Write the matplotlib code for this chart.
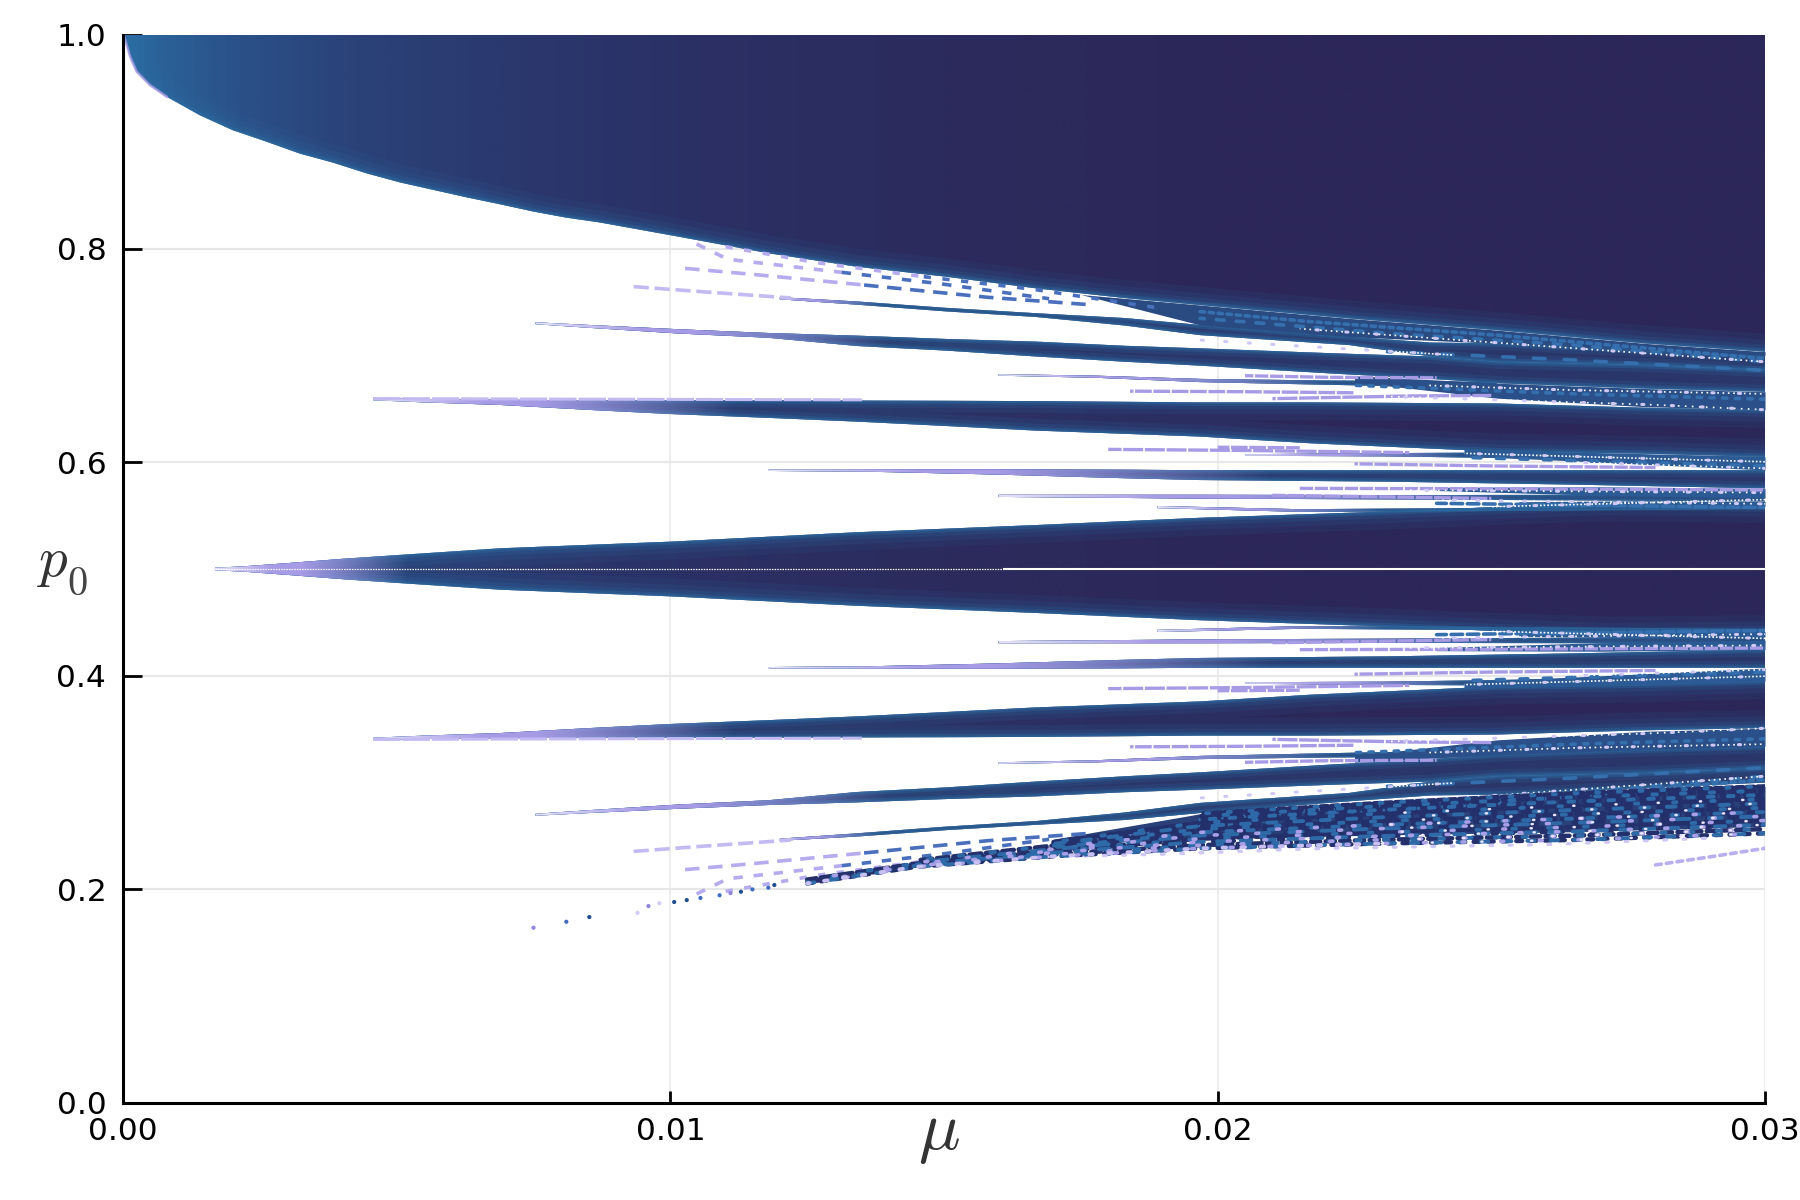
import numpy as np
import matplotlib
matplotlib.use("Agg")
import matplotlib.pyplot as plt
from matplotlib.patches import Polygon
from matplotlib.colors import LinearSegmentedColormap, to_rgb

plt.rcParams['mathtext.fontset'] = 'cm'
plt.rcParams['font.family'] = 'DejaVu Sans'

# ---------- data: (mu, p) envelopes ----------
x_ticks = [0.00, 0.01, 0.02, 0.03]
y_ticks = [0.0, 0.2, 0.4, 0.6, 0.8, 1.0]
x_tick_labels = ["0.00", "0.01", "0.02", "0.03"]
y_tick_labels = ["0.0", "0.2", "0.4", "0.6", "0.8", "1.0"]

top_mu = [0.00002, 0.00013, 0.00025, 0.00049, 0.0008, 0.0014, 0.0020, 0.00263, 0.00323, 0.00384, 0.00445,
          0.00506, 0.00567, 0.00628, 0.00689, 0.0075, 0.0081, 0.0087, 0.01015, 0.01179, 0.01341, 0.01504,
          0.01668, 0.0183, 0.01968, 0.0224, 0.0251, 0.0278, 0.03]
top_p = [0.999, 0.9797, 0.9657, 0.9532, 0.9422, 0.925, 0.911, 0.900, 0.889, 0.8805, 0.8705,
         0.862, 0.855, 0.848, 0.8415, 0.8347, 0.829, 0.8246, 0.8112, 0.7957, 0.783, 0.7737,
         0.7628, 0.7537, 0.7472, 0.7347, 0.7237, 0.7113, 0.7035]

centre_mu = [0.00168, 0.0022, 0.003, 0.004, 0.005, 0.0069, 0.01, 0.0134, 0.0167, 0.0197, 0.023, 0.0251, 0.0271, 0.03]
centre_halfwidth = [0.0012, 0.0025, 0.0055, 0.0095, 0.013, 0.0194, 0.0256, 0.0344, 0.0412, 0.048, 0.0537, 0.058, 0.0615, 0.060]

b1_mu = [0.00457, 0.0055, 0.00689, 0.0085, 0.01, 0.0118, 0.01341, 0.015, 0.01668, 0.01968, 0.0217, 0.0251, 0.0278, 0.03]
b1_hi = [0.6600, 0.6592, 0.6585, 0.658, 0.658, 0.658, 0.6577, 0.6575, 0.6572, 0.656, 0.656, 0.655, 0.651, 0.649]
b1_lo = [0.6580, 0.6560, 0.6536, 0.6490, 0.6451, 0.6415, 0.638, 0.634, 0.6296, 0.624, 0.6177, 0.61, 0.608, 0.605]

b2_mu = [0.00754, 0.00852, 0.01015, 0.01179, 0.01341, 0.01504, 0.01668, 0.0183, 0.01968, 0.0221, 0.0239, 0.0251, 0.0278, 0.03]
b2_hi = [0.7310, 0.7285, 0.7245, 0.7210, 0.7185, 0.7154, 0.7129, 0.709, 0.7066, 0.702, 0.699, 0.694, 0.691, 0.6863]
b2_lo = [0.7292, 0.7258, 0.7205, 0.7165, 0.7088, 0.7045, 0.699, 0.6941, 0.6904, 0.683, 0.678, 0.674, 0.669, 0.666]

b3_mu = [0.0120, 0.01341, 0.01504, 0.01668, 0.0183, 0.01968, 0.0224, 0.0239, 0.0251, 0.0278, 0.03]
b3_hi = [0.7545, 0.7505, 0.7445, 0.7395, 0.7350, 0.7285, 0.7175, 0.712, 0.7113, 0.705, 0.70]
b3_lo = [0.7525, 0.7475, 0.7412, 0.7360, 0.7280, 0.7190, 0.7097, 0.699, 0.694, 0.691, 0.6863]
b3_tip_mu = [0.00933, 0.01056, 0.0122]
b3_tip_p = [0.7644, 0.7597, 0.7538]

b4_mu = [0.0118, 0.0137, 0.0159, 0.0183, 0.01968, 0.0231, 0.0265, 0.03]
b4_hi = [0.5932, 0.5934, 0.5934, 0.5930, 0.5925, 0.5925, 0.5925, 0.5925]
b4_lo = [0.5918, 0.5910, 0.5885, 0.585, 0.5833, 0.5818, 0.579, 0.5755]

se_mu = [0.0160, 0.0178, 0.01968, 0.0220, 0.0235, 0.0251]
se_hi = [0.6825, 0.6810, 0.6780, 0.6765, 0.6760, 0.675]
se_lo = [0.6810, 0.6790, 0.6750, 0.6725, 0.6710, 0.669]

sb_mu = [0.0160, 0.0197, 0.0231, 0.03]
sb_hi = [0.5695, 0.5695, 0.5692, 0.5697]
sb_lo = [0.5675, 0.5659, 0.5652, 0.5633]

sd_mu = [0.0205, 0.0230, 0.0251, 0.03]
sd_hi = [0.6075, 0.6085, 0.6090, 0.6050]
sd_lo = [0.6060, 0.6055, 0.6040, 0.5990]

sc_mu = [0.0189, 0.0215, 0.0245, 0.03]
sc_hi = [0.5590, 0.5560, 0.5570, 0.5620]
sc_lo = [0.5570, 0.5535, 0.5540, 0.5560]

gap1_mu = [0.0175, 0.01968, 0.0224, 0.0251, 0.0278, 0.03]
gap1_hi = [0.7570, 0.7472, 0.7347, 0.7237, 0.7113, 0.7035]
gap1_lo = [0.7570, 0.7285, 0.7175, 0.7113, 0.705, 0.70]

gap2_mu = [0.0225, 0.0251, 0.0278, 0.03]
gap2_hi = [0.681, 0.674, 0.669, 0.666]
gap2_lo = [0.675, 0.660, 0.652, 0.649]

gap3_mu = [0.0245, 0.0278, 0.03]
gap3_hi = [0.612, 0.608, 0.605]
gap3_lo = [0.606, 0.598, 0.5927]

gap4_mu = [0.0240, 0.0270, 0.03]
gap4_hi = [0.5765, 0.5770, 0.5755]
gap4_lo = [0.5735, 0.5690, 0.5665]

gap5_mu = [0.0255, 0.0278, 0.03]
gap5_hi = [0.5630, 0.5640, 0.5633]
gap5_lo = [0.5590, 0.5605, 0.5585]

bot_base_mu = [0.0170, 0.0197, 0.023, 0.0265, 0.03]
bot_base_hi = [0.2470, 0.2710, 0.2810, 0.2900, 0.2965]
bot_base_lo = [0.2420, 0.2470, 0.2510, 0.2540, 0.2590]

b1_edge_mu = [0.00457, 0.0085, 0.0135]
b1_edge_p = [0.6596, 0.6590, 0.6584]

# dotted rows beside the upper boundary (mirrored below 0.5)
row1_mu = [0.01027, 0.0115, 0.01354, 0.0158, 0.01774]
row1_p = [0.7815, 0.7759, 0.7659, 0.7544, 0.7472]
row2_mu = [0.01048, 0.01105, 0.01313, 0.01496, 0.01692]
row2_p = [0.8043, 0.790, 0.7778, 0.7669, 0.7531]
row3_mu = [0.01101, 0.01268, 0.01463, 0.01659, 0.01896]
row3_p = [0.8018, 0.7868, 0.7737, 0.7622, 0.7441]

# speckled rows on the right of the upper half (mirrored)
spk_blue_rows = [
    ([0.01968, 0.0217, 0.0251, 0.03], [0.741, 0.7316, 0.719, 0.697]),
    ([0.01968, 0.0231, 0.0265, 0.03], [0.7347, 0.7207, 0.7097, 0.694]),
    ([0.0231, 0.0265, 0.03], [0.7035, 0.6957, 0.686]),
    ([0.0225, 0.0265, 0.03], [0.672, 0.664, 0.659]),
    ([0.0245, 0.03], [0.6045, 0.5965]),
    ([0.0240, 0.03], [0.5615, 0.5575]),
]
spk_white_rows = [
    ([0.0197, 0.0222, 0.0243], [0.7143, 0.7066, 0.7004]),
    ([0.0238, 0.0265, 0.03], [0.672, 0.6675, 0.664]),
    ([0.0231, 0.0251, 0.028, 0.03], [0.6615, 0.6584, 0.6537, 0.6491]),
    ([0.0245, 0.03], [0.6083, 0.6004]),
    ([0.0265, 0.03], [0.600, 0.5942]),
    ([0.0240, 0.03], [0.5645, 0.5610]),
    ([0.0250, 0.03], [0.5583, 0.5650]),
    ([0.0215, 0.03], [0.7250, 0.6940]),
    ([0.0235, 0.03], [0.5738, 0.5715]),
]
purple_rows = [
    ([0.0215, 0.0245, 0.03], [0.5755, 0.5752, 0.5740]),
    ([0.0210, 0.0225, 0.0250], [0.5690, 0.5680, 0.5660]),
    ([0.0180, 0.0205, 0.0235], [0.6120, 0.6110, 0.6090]),
    ([0.0225, 0.0250, 0.0280], [0.5985, 0.5965, 0.5950]),
    ([0.0184, 0.0205, 0.0225], [0.6665, 0.6660, 0.6650]),
    ([0.0210, 0.0235, 0.0250], [0.6595, 0.6620, 0.6625]),
    ([0.0205, 0.0220, 0.0240], [0.6810, 0.6795, 0.6790]),
    ([0.0200, 0.0215], [0.6140, 0.6135]),
]

# the speckled rows of the lower edge
bot_mu = [0.0125, 0.0145, 0.017, 0.0197, 0.023, 0.0265, 0.03]
bot_rows = [
    [0.2056, 0.2212, 0.2310, 0.2385, 0.2430, 0.2463, 0.2525],
    [0.2068, 0.2222, 0.2327, 0.2415, 0.2465, 0.2503, 0.2565],
    [0.2080, 0.2232, 0.2344, 0.2445, 0.2500, 0.2543, 0.2605],
    [0.2092, 0.2242, 0.2360, 0.2475, 0.2535, 0.2583, 0.2645],
    [0.2104, 0.2252, 0.2377, 0.2505, 0.2570, 0.2623, 0.2685],
    [0.2116, 0.2262, 0.2394, 0.2535, 0.2605, 0.2663, 0.2725],
    [0.2128, 0.2272, 0.2410, 0.2565, 0.2640, 0.2703, 0.2765],
    [0.2140, 0.2282, 0.2427, 0.2595, 0.2675, 0.2743, 0.2805],
    [0.2152, 0.2292, 0.2444, 0.2625, 0.2710, 0.2783, 0.2845],
    [0.2164, 0.2302, 0.2461, 0.2655, 0.2745, 0.2823, 0.2885],
    [0.2176, 0.2312, 0.2478, 0.2685, 0.2780, 0.2863, 0.2925],
    [0.2180, 0.2320, 0.2495, 0.2710, 0.2810, 0.2900, 0.2965],
]
bot_row_start = [0, 0, 1, 0, 1, 2, 1, 2, 2, 3, 3, 3]
faint_mu = [0.0280, 0.0290, 0.0300]
faint_p = [0.2229, 0.2305, 0.2385]
faint2_mu = [0.0165, 0.0190, 0.0220, 0.0260, 0.0290]
faint2_p = [0.2300, 0.2330, 0.2385, 0.2420, 0.2480]

dots_mu = [0.0075, 0.0081, 0.00852, 0.0094, 0.0096, 0.0098, 0.01007, 0.0103, 0.01055, 0.0109, 0.0111, 0.01129, 0.0115, 0.01179, 0.0119]
dots_p = [0.1641, 0.1697, 0.1741, 0.1780, 0.1844, 0.1870, 0.1882, 0.1900, 0.1920, 0.1945, 0.1965, 0.1978, 0.2000, 0.2016, 0.2041]
dots_kind = [2, 1, 0, 3, 2, 3, 0, 0, 1, 1, 2, 0, 1, 1, 0]

# ---------- colours ----------
DARK = "#2c2759"
BLUE = "#2a6ca2"
PURPLE = "#a79be6"
PALE = "#e6e1fa"
body_stops = [(0.0, "#2a6ea4"), (0.02, "#2a6298"), (0.07, "#2a5088"), (0.14, "#2a4278"),
              (0.25, "#2a376d"), (0.35, "#2b3064"), (0.5, "#2c2b5d"), (0.67, DARK), (1.0, DARK)]
body_cmap = LinearSegmentedColormap.from_list("body", body_stops)

fig = plt.figure(figsize=(18, 12), dpi=100, facecolor="white")
ax = fig.add_axes([123 / 1800, 97 / 1200, 1642 / 1800, 1068 / 1200])
ax.set_xlim(0, 0.03)
ax.set_ylim(0, 1)
ax.set_autoscale_on(False)
ax.set_axisbelow(True)
ax.grid(True, axis="y", color="#e7e7e7", lw=1.5)
ax.grid(True, axis="x", color="#e7e7e7", lw=1.1)

ramp = np.linspace(0, 1, 800).reshape(1, -1)
OVER = 0.0006   # outlines are pushed past the plot frame, so none shows along it


def band(mu, lo, hi, fade=None, z=2.0):
    mu, lo, hi = list(mu), list(lo), list(hi)
    if mu[-1] >= 0.03:
        mu, lo, hi = mu + [0.03 + OVER], lo + [lo[-1]], hi + [hi[-1]]
    xy = list(zip(mu, hi)) + list(zip(mu[::-1], lo[::-1]))
    patch = Polygon(xy, closed=True, transform=ax.transData)
    im = ax.imshow(ramp, extent=[0, 0.03, 0, 1], aspect="auto", cmap=body_cmap, zorder=z,
                   interpolation="bilinear")
    im.set_clip_path(patch)
    for lw, a in [(26, 0.10), (17, 0.14), (10, 0.20), (5, 0.35), (2.2, 0.5)]:
        p = Polygon(xy, closed=True, fill=False, ec=BLUE, lw=lw, alpha=a, zorder=z + 0.01,
                    joinstyle="round")
        ax.add_patch(p)
        p.set_clip_path(patch)
    if fade is not None:
        a, b = fade
        n = 300
        t = np.linspace(0, 1, n)
        rgba = np.zeros((1, n, 4))
        c0, c1 = np.array(to_rgb(PALE)), np.array(to_rgb(PURPLE))
        w = np.clip(t / 0.3, 0, 1)[None, :, None]
        rgba[..., :3] = c0 * (1 - w) + c1 * w
        rgba[..., 3] = np.clip((1 - t) / 0.55, 0, 1)
        im2 = ax.imshow(rgba, extent=[a, b, 0, 1], aspect="auto", zorder=z + 0.02,
                        interpolation="bilinear")
        im2.set_clip_path(patch)


def flat(mu, lo, hi, color, z=2.1):
    ax.fill_between(mu, lo, hi, color=color, lw=0, zorder=z)


def mirror(v):
    return [1 - q for q in v]


def both_band(mu, lo, hi, fade=None, z=2.0):
    band(mu, lo, hi, fade, z)
    band(mu, mirror(hi), mirror(lo), fade, z)


def row(mu, p, color, lw, on, off, offset=0.0, z=3.0, cap="round"):
    ax.plot(mu, p, color=color, lw=lw, ls=(offset, (on, off)), zorder=z,
            dash_capstyle=cap, dash_joinstyle="round")


# upper solid region
tm = top_mu + [0.03 + OVER]
tl = top_p + [top_p[-1]]
band(tm, tl, [1.04] * len(tm))
ax.plot(top_mu[:5], top_p[:5], color=PURPLE, lw=1.8, alpha=0.8, zorder=2.1)

# centre and side bands
hw = np.array(centre_halfwidth)
band(centre_mu, list(0.5 - hw), list(0.5 + hw), fade=(0.00168, 0.0052))
both_band(b1_mu, b1_lo, b1_hi, fade=(0.00457, 0.0112))
both_band(b2_mu, b2_lo, b2_hi, fade=(0.00754, 0.0140))
both_band(b3_mu, b3_lo, b3_hi, fade=(0.0118, 0.0138))
both_band(b4_mu, b4_lo, b4_hi, fade=(0.0118, 0.0210))
both_band(se_mu, se_lo, se_hi, fade=(0.0160, 0.0222))
both_band(sb_mu, sb_lo, sb_hi, fade=(0.0160, 0.0255))
both_band(sd_mu, sd_lo, sd_hi, fade=(0.0205, 0.0245))
both_band(sc_mu, sc_lo, sc_hi, fade=(0.0189, 0.0230))

for pp in (b3_tip_p, mirror(b3_tip_p)):
    row(b3_tip_mu, pp, "#c3baf2", 2.6, 4.2, 1.6, cap="butt")
for pp in (b1_edge_p, mirror(b1_edge_p)):
    row(b1_edge_mu, pp, "#c3baf2", 2.2, 9, 0.6, cap="butt", z=2.5)

# filled gaps on the right
for m, lo, hi, col in [(gap1_mu, gap1_lo, gap1_hi, "#2a4b82"),
                       (gap2_mu, gap2_lo, gap2_hi, "#2b4f88"),
                       (gap3_mu, gap3_lo, gap3_hi, "#2b5a94"),
                       (gap4_mu, gap4_lo, gap4_hi, "#2b5a94"),
                       (gap5_mu, gap5_lo, gap5_hi, "#2b5a94")]:
    flat(m, lo, hi, col)
    if m is not gap1_mu:
        flat(m, mirror(hi), mirror(lo), col)
flat(bot_base_mu, bot_base_lo, bot_base_hi, "#2a4078")

# dotted rows beside the boundary
for m, p, on, off in [(row1_mu, row1_p, 4.0, 2.4), (row2_mu, row2_p, 2.6, 3.0), (row3_mu, row3_p, 2.0, 3.2)]:
    for pp in (p, mirror(p)):
        k = len(m) // 2
        row(m[:k + 1], pp[:k + 1], "#b5abee", 2.6, on, off, cap="butt")
        row(m[k:], pp[k:], "#4a6fbc", 2.6, on, off, cap="butt")

# speckle rows on the right, both halves
for i, (m, p) in enumerate(spk_blue_rows):
    for pp in (p, mirror(p)):
        row(m, pp, "#356fae", 2.6, 1.2 + i % 3, 1.3 + (i * 2) % 5, offset=i)
for i, (m, p) in enumerate(purple_rows):
    for pp in (p, mirror(p)):
        row(m, pp, PURPLE, 2.4, 4 + i % 3, 0.5, offset=i, cap="butt")
for i, (m, p) in enumerate(spk_white_rows):
    for pp in (p, mirror(p)):
        row(m, pp, "#ffffff", 1.2, 1.0, 1.2 + i % 3, offset=i, cap="butt")
        row(m, pp, "#cfc8f5", 2.2, 0.7, 7 + i % 5, offset=2 * i)

# speckled lower edge
bot_dash_on = [1.3, 2.1, 1.0, 3.1, 1.7, 1.2, 2.6, 1.5, 3.4, 1.1, 2.2, 1.6]
bot_dash_off = [1.9, 1.2, 2.7, 1.0, 3.3, 1.6, 1.1, 2.3, 0.9, 1.5, 1.2, 0.8]
for i, (r, s) in enumerate(zip(bot_rows, bot_row_start)):
    m = bot_mu[s:]
    rr = r[s:]
    row(m, rr, "#23306b", 3.2, bot_dash_on[i], bot_dash_off[i], offset=i * 1.7)
    row(m, rr, "#2f6aa8", 2.8, bot_dash_off[i], bot_dash_on[i] * 2.3 + 1.1, offset=i * 0.9, z=3.1)
    if i < 6:
        row(m, rr, "#a99fe8", 2.6, 0.8, 7.3 + bot_dash_on[i] * 2, offset=i * 2.3, z=3.2)
    if i < 9 and len(m) > 3:
        row(m[-3:], rr[-3:], "#e8e4fb", 1.8, 0.5, 13.7 + bot_dash_off[i] * 3, offset=i * 3.1, z=3.3)
row(bot_mu[:5], bot_rows[0][:5], "#c8c0f3", 2.8, 0.9, 4.0, offset=0.5, z=3.2)
row(faint_mu, faint_p, "#b9aeee", 2.6, 1.6, 1.4)
row(faint2_mu, faint2_p, "#cfc8f5", 2.4, 0.8, 5.0)

# isolated points at the lower-left
dot_colors = ["#1f4f8c", "#3f6cc0", "#8f86e0", "#d2ccf6"]
ax.scatter(dots_mu, dots_p, s=9, c=[dot_colors[k] for k in dots_kind], lw=0, zorder=3.5)

# white centre line
ax.plot([0.00168, 0.0161], [0.5, 0.5], color="white", lw=0.9, ls=(0, (1.2, 0.9)), zorder=4)
ax.plot([0.0161, 0.03], [0.5, 0.5], color="white", lw=1.5, zorder=4)

# axes
for s in ("top", "right"):
    ax.spines[s].set_visible(False)
for s in ("left", "bottom"):
    ax.spines[s].set_linewidth(2.2)
    ax.spines[s].set_zorder(6)
ax.set_xticks(x_ticks, x_tick_labels)
ax.set_yticks(y_ticks, y_tick_labels)
ax.tick_params(axis="x", direction="in", length=8.6, width=2.0, labelsize=22.5, pad=10)
ax.tick_params(axis="y", direction="in", length=13.7, width=2.0, labelsize=22.5, pad=12)
for t in ax.xaxis.get_major_ticks() + ax.yaxis.get_major_ticks():
    t.tick1line.set_zorder(7)

fig.text(939 / 1800, 1 - 1133 / 1200, r"$\mu$", fontsize=50, color="#333333", ha="center", va="center")
fig.text(53 / 1800, 1 - 562 / 1200, r"$p$", fontsize=41, color="#333333", ha="center", va="center")
fig.text(77 / 1800, 1 - 584 / 1200, r"$0$", fontsize=29, color="#444444", ha="center", va="center")

fig.savefig("out.png", dpi=100, facecolor="white")
